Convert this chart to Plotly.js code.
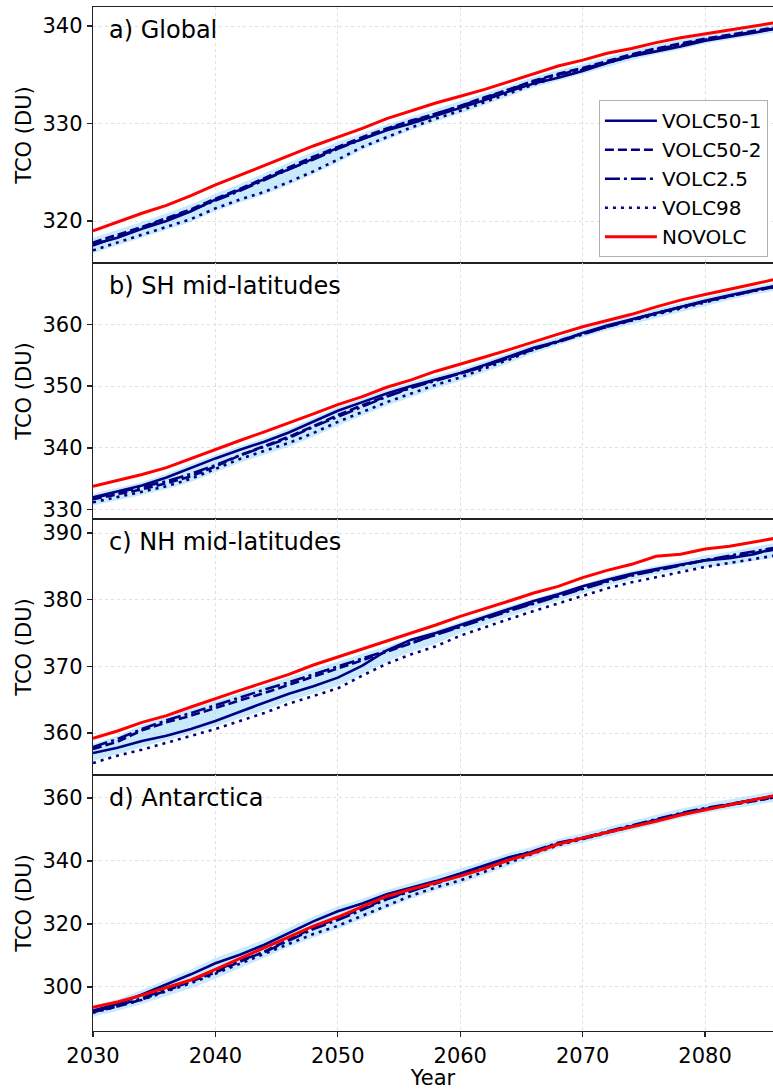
<!DOCTYPE html>
<html>
<head>
<meta charset="utf-8">
<script src="https://cdn.plot.ly/plotly-3.0.1.min.js"></script>
<style>html,body{margin:0;padding:0;background:#fff;}#chart{width:773px;height:1090px;}</style>
</head>
<body>
<div id="chart"></div>
<script>
const years = [2030,2032,2034,2036,2038,2040,2042,2044,2046,2048,2050,2052,2054,2056,2058,2060,2062,2064,2066,2068,2070,2072,2074,2076,2078,2080,2082,2084,2086];

const seriesNames = ["VOLC50-1","VOLC50-2","VOLC2.5","VOLC98","NOVOLC"];
const panelLabels = ["a) Global","b) SH mid-latitudes","c) NH mid-latitudes","d) Antarctica"];

// a) Global
const globalVOLC50_1 = [317.6,318.3,319.2,320.0,321.0,322.2,323.2,324.3,325.3,326.4,327.5,328.4,329.3,330.0,330.8,331.6,332.4,333.3,334.1,334.7,335.4,336.2,336.9,337.4,337.9,338.5,338.9,339.3,339.8];
const globalVOLC50_2 = [317.8,318.6,319.4,320.3,321.2,322.3,323.3,324.4,325.5,326.6,327.6,328.6,329.5,330.3,331.0,331.8,332.7,333.5,334.4,335.1,335.7,336.4,337.1,337.7,338.2,338.7,339.1,339.5,339.9];
const globalVOLC2_5 = [317.5,318.4,319.3,320.2,321.1,322.1,323.1,324.2,325.3,326.3,327.4,328.4,329.4,330.2,331.0,331.8,332.6,333.5,334.3,335.0,335.6,336.3,337.0,337.6,338.1,338.6,339.0,339.4,339.8];
const globalVOLC98 = [317.0,317.8,318.6,319.4,320.2,321.3,322.2,323.0,324.0,325.1,326.3,327.6,328.6,329.6,330.5,331.3,332.2,333.1,334.0,334.8,335.5,336.2,336.9,337.5,338.0,338.6,339.0,339.4,339.8];
const globalNOVOLC = [319.0,319.9,320.8,321.6,322.6,323.7,324.7,325.7,326.7,327.7,328.6,329.5,330.5,331.3,332.1,332.8,333.5,334.3,335.1,335.9,336.5,337.2,337.7,338.3,338.8,339.2,339.6,340.0,340.4];
const globalBandLo = [316.7,317.5,318.3,319.1,319.9,321.0,321.9,322.7,323.7,324.8,326.0,327.3,328.3,329.3,330.2,331.0,331.9,332.8,333.7,334.4,335.1,335.8,336.5,337.1,337.6,338.2,338.6,339.0,339.4];
const globalBandHi = [318.3,319.1,319.9,320.8,321.7,322.8,323.8,324.9,326.0,327.1,328.1,329.0,329.9,330.7,331.5,332.3,333.1,333.9,334.8,335.5,336.1,336.8,337.5,338.1,338.6,339.1,339.5,339.9,340.3];

// b) SH mid-latitudes
const shVOLC50_1 = [332.0,332.9,333.9,335.2,336.8,338.3,339.7,341.0,342.5,344.3,346.0,347.4,348.8,350.0,351.0,352.1,353.4,354.8,356.2,357.2,358.6,359.8,360.8,361.9,362.8,363.8,364.7,365.5,366.3];
const shVOLC50_2 = [331.7,332.5,333.3,334.3,335.4,337.0,338.8,340.3,341.8,343.5,345.3,346.9,348.4,349.8,351.0,352.0,353.2,354.6,356.0,357.3,358.5,359.6,360.7,361.8,362.8,363.7,364.6,365.4,366.2];
const shVOLC2_5 = [331.9,332.8,333.6,334.6,335.8,337.2,338.8,340.2,341.6,343.4,345.0,346.7,348.3,349.7,350.9,352.0,353.2,354.6,356.0,357.1,358.4,359.6,360.7,361.8,362.7,363.7,364.6,365.4,366.2];
const shVOLC98 = [331.2,332.0,332.9,333.8,335.0,336.6,338.2,339.5,340.8,342.4,344.2,345.8,347.4,348.8,350.2,351.4,352.8,354.3,355.9,357.2,358.5,359.6,360.6,361.6,362.6,363.6,364.5,365.4,366.1];
const shNOVOLC = [333.8,334.7,335.7,336.8,338.3,339.8,341.2,342.6,344.0,345.5,347.0,348.3,349.8,351.0,352.4,353.5,354.7,355.9,357.2,358.4,359.6,360.6,361.6,362.8,363.9,364.8,365.6,366.5,367.4];
const shBandLo = [330.7,331.5,332.4,333.3,334.5,336.0,337.6,338.9,340.2,341.8,343.6,345.2,346.8,348.2,349.6,350.8,352.2,353.7,355.3,356.6,357.9,359.0,360.0,361.0,362.0,363.0,363.9,364.8,365.5];
const shBandHi = [332.6,333.5,334.5,335.8,337.4,338.9,340.3,341.6,343.1,344.9,346.6,348.0,349.4,350.6,351.6,352.7,354.0,355.4,356.8,357.9,359.2,360.4,361.4,362.5,363.4,364.4,365.3,366.1,366.9];

// c) NH mid-latitudes
const nhVOLC50_1 = [357.0,357.8,358.8,359.6,360.6,361.8,363.2,364.6,365.9,367.0,368.3,370.1,372.4,374.0,375.0,376.2,377.4,378.6,379.8,380.8,382.0,383.0,383.9,384.6,385.3,385.9,386.2,386.8,387.9];
const nhVOLC50_2 = [357.6,358.7,360.4,361.6,362.6,363.8,364.9,366.0,367.2,368.4,369.6,370.9,372.2,373.5,374.8,376.1,377.3,378.4,379.5,380.5,381.7,382.8,383.7,384.5,385.2,385.9,386.4,387.0,387.6];
const nhVOLC2_5 = [357.9,359.1,360.6,361.9,363.0,364.2,365.3,366.5,367.6,368.8,370.0,371.2,372.4,373.6,374.8,376.0,377.1,378.3,379.4,380.5,381.6,382.7,383.6,384.4,385.2,385.9,386.6,387.2,387.9];
const nhVOLC98 = [355.5,356.6,357.5,358.5,359.5,360.6,361.8,363.0,364.4,365.6,366.7,368.6,370.4,371.8,373.0,374.6,375.9,377.1,378.3,379.4,380.6,381.7,382.6,383.4,384.2,384.9,385.5,386.1,386.7];
const nhNOVOLC = [359.2,360.3,361.6,362.6,363.9,365.2,366.4,367.6,368.8,370.2,371.4,372.6,373.7,374.9,376.2,377.5,378.6,379.8,381.0,382.0,383.3,384.4,385.3,386.5,386.8,387.6,388.0,388.6,389.3];
const nhBandLo = [355.8,356.9,357.9,358.9,359.9,361.0,362.2,363.4,364.8,366.0,367.1,368.8,370.7,372.2,373.4,375.0,376.3,377.5,378.7,379.8,381.0,382.1,383.0,383.8,384.4,384.9,385.2,385.8,386.4];
const nhBandHi = [358.4,359.6,361.2,362.5,363.6,364.8,366.0,367.2,368.3,369.5,370.7,371.9,373.0,374.2,375.4,376.7,377.9,379.1,380.1,381.2,382.3,383.4,384.3,385.1,385.9,386.6,387.2,387.9,388.6];

// d) Antarctica
const antVOLC50_1 = [292.5,294.6,297.6,300.8,304.0,307.5,310.2,313.4,317.2,320.8,324.0,326.5,329.4,331.4,333.6,336.0,338.6,341.2,343.0,345.5,347.2,349.1,350.9,353.0,355.0,356.6,358.0,359.5,360.9];
const antVOLC50_2 = [292.0,293.8,296.0,298.8,301.6,304.6,308.0,311.2,315.0,318.8,321.8,325.0,328.0,330.6,332.8,335.4,337.9,340.8,343.0,345.6,347.0,349.0,351.0,353.0,354.8,356.4,357.8,359.2,360.4];
const antVOLC2_5 = [292.2,294.0,296.4,299.2,302.2,305.2,308.4,311.0,314.6,318.4,321.2,324.6,327.8,330.4,333.0,335.6,338.3,341.0,343.2,345.8,347.4,349.3,351.2,353.3,355.2,356.8,358.0,359.4,360.6];
const antVOLC98 = [291.8,293.8,295.9,298.6,301.2,304.2,307.4,310.6,313.8,316.8,319.4,322.6,326.0,329.0,331.6,333.8,336.6,339.6,342.4,345.0,347.0,349.0,350.8,352.8,354.8,356.4,357.8,359.2,360.4];
const antNOVOLC = [293.5,295.2,297.4,299.8,302.2,305.6,309.0,312.4,316.0,319.3,322.2,325.4,328.8,331.0,333.0,335.2,337.6,340.3,342.6,345.3,347.3,349.0,350.7,352.6,354.6,356.2,357.8,359.3,361.0];
const antBandLo = [290.5,292.4,294.6,297.2,299.6,302.6,306.0,309.2,312.6,315.6,318.4,321.6,325.0,328.0,330.6,332.8,335.6,338.6,341.4,344.0,345.8,347.8,349.6,351.6,353.6,355.2,356.4,357.8,359.0];
const antBandHi = [294.0,296.0,299.0,302.2,305.6,309.2,312.0,315.0,318.8,322.4,325.6,328.0,330.8,333.0,335.2,337.6,340.0,342.6,344.6,347.0,348.8,350.8,352.6,354.6,356.6,358.2,359.6,361.0,362.4];

const panels = [
  {lines:[globalVOLC50_1,globalVOLC50_2,globalVOLC2_5,globalVOLC98,globalNOVOLC], lo:globalBandLo, hi:globalBandHi},
  {lines:[shVOLC50_1,shVOLC50_2,shVOLC2_5,shVOLC98,shNOVOLC], lo:shBandLo, hi:shBandHi},
  {lines:[nhVOLC50_1,nhVOLC50_2,nhVOLC2_5,nhVOLC98,nhNOVOLC], lo:nhBandLo, hi:nhBandHi},
  {lines:[antVOLC50_1,antVOLC50_2,antVOLC2_5,antVOLC98,antNOVOLC], lo:antBandLo, hi:antBandHi}
];

const styles = [
  {color:'#000080', width:2.6, dash:'solid'},
  {color:'#000080', width:2.6, dash:'9px,4px'},
  {color:'#000080', width:2.6, dash:'15px,4px,3px,4px'},
  {color:'#000080', width:2.6, dash:'3px,5px'},
  {color:'#ff0000', width:3, dash:'solid'}
];

const yRanges = [[315.7,341.95],[328.5,369.9],[353.7,392.1],[286,367.3]];
const yTicks = [[320,330,340],[330,340,350,360],[360,370,380,390],[300,320,340,360]];
const domains = [[0.75,1],[0.5,0.75],[0.25,0.5],[0,0.25]];

const FONT = 'DejaVu Sans, sans-serif';
const traces = [];
const layout = {
  width:773, height:1090,
  margin:{l:93, r:0, t:7, b:59},
  paper_bgcolor:'#fff', plot_bgcolor:'#fff',
  font:{family:FONT, size:20, color:'#000'},
  showlegend:true,
  legend:{x:0.744, y:0.909, xanchor:'left', yanchor:'top', bgcolor:'#fff',
          bordercolor:'#b0b0b0', borderwidth:1, font:{size:20, family:FONT}, tracegroupgap:0, itemwidth:52},
  annotations:[]
};

panels.forEach((p,i)=>{
  const sfx = i===0 ? '' : String(i+1);
  const xa = 'x'+sfx, ya = 'y'+sfx;
  traces.push({x:years, y:p.lo, xaxis:xa, yaxis:ya, type:'scatter', mode:'lines',
    line:{width:0, color:'rgba(0,0,0,0)'}, showlegend:false, hoverinfo:'skip'});
  traces.push({x:years, y:p.hi, xaxis:xa, yaxis:ya, type:'scatter', mode:'lines', fill:'tonexty',
    fillcolor:'rgba(135,206,250,0.45)', line:{width:0, color:'rgba(0,0,0,0)'}, showlegend:false, hoverinfo:'skip'});
  p.lines.forEach((vals,k)=>{
    traces.push({x:years, y:vals, xaxis:xa, yaxis:ya, type:'scatter', mode:'lines',
      name:seriesNames[k], line:styles[k], showlegend:i===0, legendgroup:seriesNames[k]});
  });
  const isBottom = i===3;
  layout['xaxis'+sfx] = {
    domain:[0,1], anchor:ya, range:[2030,2085.55], dtick:10, tick0:2030,
    showgrid:true, gridcolor:'#e0e0e0', griddash:'dot', gridwidth:1,
    showline:true, linecolor:'#222', linewidth:1.3, mirror:true,
    zeroline:false, showticklabels:isBottom,
    ticks:isBottom?'outside':'', ticklen:5, tickwidth:1.3, tickcolor:'#222',
    tickfont:{size:21, family:FONT},
    title: isBottom ? {text:'Year', font:{size:21, family:FONT}, standoff:3} : {text:''}
  };
  if(!isBottom) layout['xaxis'+sfx].matches = 'x4';
  layout['yaxis'+sfx] = {
    domain:domains[i], anchor:xa, range:yRanges[i], tickvals:yTicks[i],
    showgrid:true, gridcolor:'#e0e0e0', griddash:'dot', gridwidth:1,
    showline:true, linecolor:'#222', linewidth:1.3, mirror:false, zeroline:false,
    ticks:'outside', ticklen:5, tickwidth:1.3, tickcolor:'#222',
    tickfont:{size:21, family:FONT},
    title:{text:'TCO (DU)', font:{size:21, family:FONT}, standoff:5}
  };
  layout.annotations.push({xref:xa+' domain', yref:ya+' domain', x:0.021, y:0.91,
    xanchor:'left', yanchor:'middle', text:panelLabels[i], showarrow:false,
    font:{size:24, family:FONT, color:'#000'}});
});

Plotly.newPlot('chart', traces, layout, {displayModeBar:false, staticPlot:true});
</script>
</body>
</html>
